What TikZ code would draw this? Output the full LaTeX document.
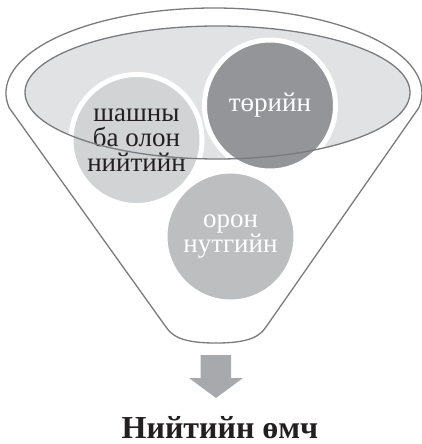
\documentclass[tikz,border=0pt]{standalone}
\usepackage{fontspec}
\setmainfont{Liberation Serif}
\definecolor{linegray}{HTML}{7A7B7E}
\definecolor{bowlfill}{HTML}{E1E2E3}
\definecolor{lightc}{HTML}{D1D3D4}
\definecolor{darkc}{HTML}{939598}
\definecolor{midc}{HTML}{BCBEC0}
\definecolor{arrowc}{HTML}{A7A9AC}
\definecolor{textc}{HTML}{231F20}
\tikzset{
  funnelline/.style={draw=linegray, line width=1.3pt, line join=round},
  bubble/.style={circle, draw=white, line width=5pt, minimum size=131pt, inner sep=0pt, align=center,
    font=\fontsize{27}{25}\selectfont},
}
\begin{document}
\begin{tikzpicture}[x=1pt, y=-1pt]
\useasboundingbox (0,0) rectangle (422,444);
% outer funnel
\path[funnelline, fill=white]
  (214,93) ++(170:208 and 85) coordinate (ftl)
  arc[start angle=170, end angle=370, x radius=208, y radius=85] coordinate (ftr)
  -- (266,327) coordinate (fbr)
  .. controls (258,340) and (240,343) .. (216,343) coordinate (fbot)
  .. controls (192,343) and (174,340) .. (166,327) coordinate (fbl)
  -- cycle;
% inner ellipse fill
\fill[bowlfill] (217.5,92.5) ellipse [x radius=192.5, y radius=66.5];
% circles
\node[bubble, fill=lightc, text=textc] (relig) at (136.5,140) {шашны\\ба олон\\нийтийн};
\node[bubble, fill=darkc, text=white] (state) at (270,105.5) {төрийн};
\node[bubble, fill=midc, text=white] (local) at (230.5,236.5) {орон\\нутгийн};
% inner ellipse outline on top
\draw[funnelline] (217.5,92.5) ellipse [x radius=192.5, y radius=66.5];
% block arrow
\fill[arrowc] (200.5,355) coordinate (ashaft) -- (231,355) -- (231,378) -- (243,378) -- (216,398) coordinate (atip) -- (189,378) -- (200.5,378) -- cycle;
% result label
\node[anchor=base, inner sep=0pt, text=textc, font=\fontsize{32}{34}\selectfont\bfseries] (result) at (220,438) {Нийтийн өмч};
\end{tikzpicture}
\end{document}
